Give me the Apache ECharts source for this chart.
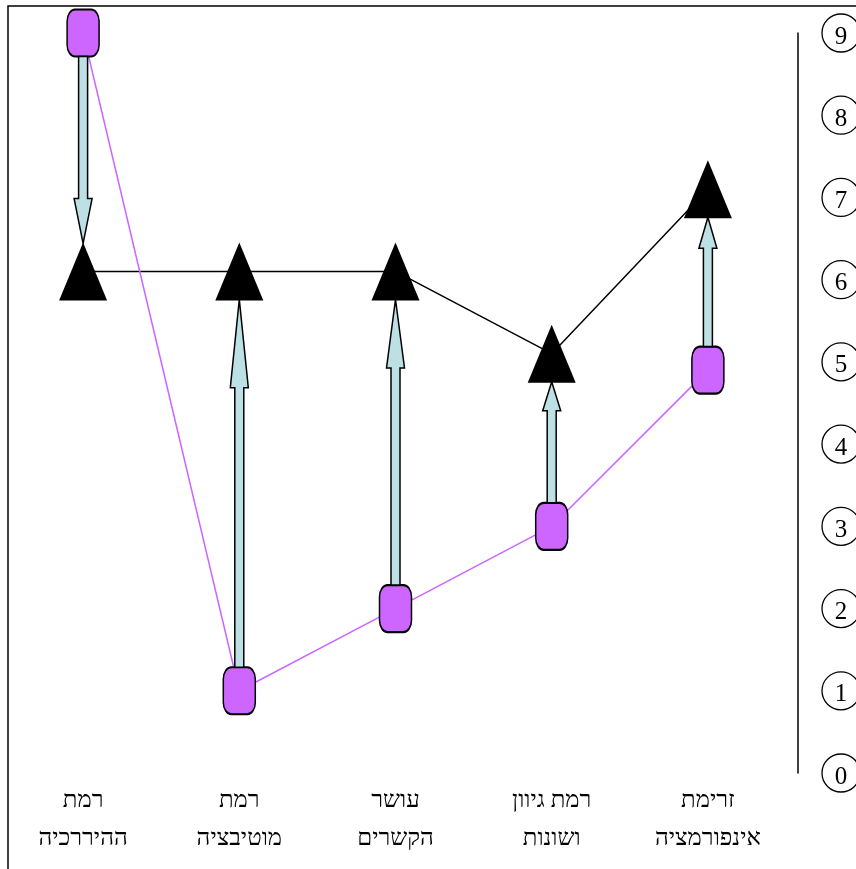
<!DOCTYPE html>
<html>
<head>
<meta charset="utf-8">
<script src="https://cdn.jsdelivr.net/npm/echarts@6/dist/echarts.min.js"></script>
<style>
  html, body { margin: 0; padding: 0; background: #fff; }
  #chart { width: 856px; height: 869px; }
</style>
</head>
<body>
<div id="chart"></div>
<script>
// ---- data ----
const categories = ['רמת\nההיררכיה', 'רמת\nמוטיבציה', 'עושר\nהקשרים', 'רמת גיוון\nושונות', 'זרימת\nאינפורמציה'];
const beforeValues = [9, 1, 2, 3, 4.9];      // squares
const afterValues = [6.1, 6.1, 6.1, 5.1, 7.1]; // triangles
const yTicks = [0, 1, 2, 3, 4, 5, 6, 7, 8, 9];

const serif = "'Liberation Serif', 'Times New Roman', 'DejaVu Serif', serif";
const SQUARE_H = 47, TRI_H = 58;

const arrowData = categories.map((c, i) => [i, beforeValues[i], afterValues[i]]);

const chart = echarts.init(document.getElementById('chart'));
chart.setOption({
  animation: false,
  backgroundColor: '#fff',
  graphic: [{
    type: 'rect', silent: true, z: 0,
    shape: { x: 8, y: 6, width: 900, height: 900 },
    style: { fill: 'none', stroke: '#000', lineWidth: 1.5 }
  }],
  grid: { left: 5, right: 70, top: 33, bottom: 96, containLabel: false, outerBoundsMode: 'none' },
  xAxis: {
    type: 'category',
    data: categories,
    axisLine: { show: false },
    axisTick: { show: false },
    axisLabel: {
      margin: 9, fontSize: 24, lineHeight: 38, color: '#000',
      fontFamily: serif, interval: 0
    }
  },
  yAxis: {
    type: 'value',
    position: 'right',
    offset: 12,
    min: 0, max: 9, interval: 1,
    splitLine: { show: false },
    axisTick: { show: false },
    axisLine: { show: true, lineStyle: { color: '#000', width: 1.5 } },
    axisLabel: {
      margin: 24,
      formatter: v => yTicks.includes(v) ? '{c|' + v + '}' : '',
      rich: {
        c: {
          width: 38, height: 30, lineHeight: 30,
          padding: [8, 0, 0, 0],
          align: 'center', verticalAlign: 'middle',
          borderColor: '#000', borderWidth: 1.3, borderRadius: 20,
          fontSize: 25, fontFamily: serif, color: '#000'
        }
      }
    }
  },
  series: [
    {
      name: 'after-line', type: 'line', data: afterValues, z: 1,
      symbol: 'none', lineStyle: { color: '#000', width: 1.5 }
    },
    {
      name: 'before-line', type: 'line', data: beforeValues, z: 1,
      symbol: 'none', lineStyle: { color: '#CC66FF', width: 1.5 }
    },
    {
      name: 'after', type: 'scatter', data: afterValues, z: 2,
      symbol: 'triangle', symbolSize: [48, TRI_H],
      itemStyle: { color: '#000', opacity: 1 }
    },
    {
      name: 'before', type: 'scatter', data: beforeValues, z: 3,
      symbol: 'roundRect', symbolSize: [32, SQUARE_H],
      itemStyle: { color: '#CC66FF', borderColor: '#000', borderWidth: 1.8, opacity: 1 }
    },
    {
      name: 'arrows', type: 'custom', z: 4,
      data: arrowData,
      encode: { x: 0, y: [1, 2] },
      renderItem: function (params, api) {
        const i = api.value(0);
        const p0 = api.coord([i, api.value(1)]);
        const p1 = api.coord([i, api.value(2)]);
        const dir = p1[1] > p0[1] ? 1 : -1;
        const x = p0[0];
        const ys = p0[1] + dir * SQUARE_H / 2;
        const ye = p1[1] - dir * (TRI_H / 2 - 1);
        const len = Math.abs(ye - ys);
        const headLen = len * 0.24;
        const yh = ye - dir * headLen;
        const sw = 4.5, hw = 9;
        const pts = [
          [x - sw, ys], [x - sw, yh], [x - hw, yh], [x, ye],
          [x + hw, yh], [x + sw, yh], [x + sw, ys]
        ];
        return {
          type: 'polygon',
          shape: { points: pts },
          style: { fill: '#BCE0E4', stroke: '#000', lineWidth: 1.5 }
        };
      }
    }
  ]
});
</script>
</body>
</html>
